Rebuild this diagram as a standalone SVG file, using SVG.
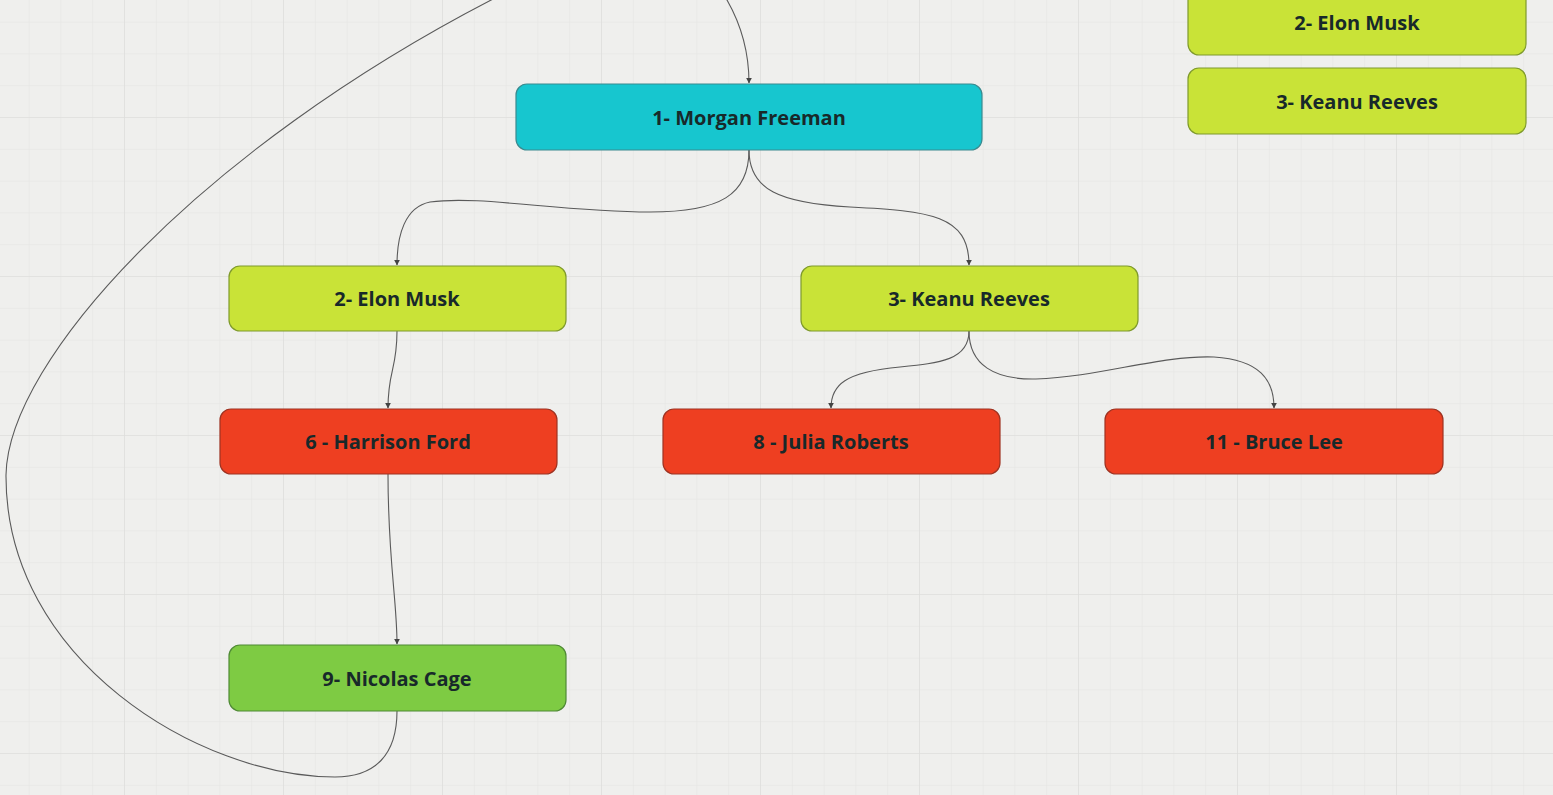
<svg xmlns="http://www.w3.org/2000/svg" width="1553" height="795" viewBox="0 0 1553 795">
<style>
.lbl{font-family:"Open Sans","Noto Sans","Liberation Sans",sans-serif;font-weight:700;font-size:20px;fill:#18292a;text-anchor:middle;dominant-baseline:central}
.teal{fill:#17c6cf;stroke:#3a8a8f;stroke-width:1.2}
.lime{fill:#c9e337;stroke:#7f9a2c;stroke-width:1.2}
.red{fill:#ee3f21;stroke:#9e3322;stroke-width:1.2}
.green{fill:#7ecb43;stroke:#4f8a35;stroke-width:1.2}
.conn{fill:none;stroke:#5a5a5a;stroke-width:1.1}
</style>
<defs>
<pattern id="minor" x="-34" y="-41" width="31.8" height="31.8" patternUnits="userSpaceOnUse">
<path d="M31.8 0V31.8M0 31.8H31.8" fill="none" stroke="#e3e3e1" stroke-width="1"/>
</pattern>
<pattern id="major" x="-34" y="-41" width="159" height="159" patternUnits="userSpaceOnUse">
<path d="M159 0V159M0 159H159" fill="none" stroke="#dcdcda" stroke-width="1.2"/>
</pattern>
<marker id="arr" viewBox="0 0 10 10" refX="9" refY="5" markerWidth="6" markerHeight="6" orient="auto" markerUnits="userSpaceOnUse">
<path d="M0 0L10 5L0 10Z" fill="#444"/>
</marker>
</defs>
<rect width="1553" height="795" fill="#efefed"/>
<rect width="1553" height="795" fill="url(#minor)"/>
<rect width="1553" height="795" fill="url(#major)"/>
<g id="connectors">
<path class="conn" marker-end="url(#arr)" d="M397,711 C397,755 375,777 335,777 C200,777 5,660 6,475 C8,360 200,150 495,-2 C580,-40 705,-35 727,0 C743,28 749,55 749,83"/>
<path class="conn" marker-end="url(#arr)" d="M749,150 C749,195 720,212 650,212 C560,212 480,195 430,202 C405,207 397,235 397,265"/>
<path class="conn" marker-end="url(#arr)" d="M749,150 C749,190 780,203 850,207 C930,211 969,215 969,265"/>
<path class="conn" marker-end="url(#arr)" d="M397,331 C397,370 388,370 388,408"/>
<path class="conn" marker-end="url(#arr)" d="M388,474 C388,560 397,600 397,644"/>
<path class="conn" marker-end="url(#arr)" d="M969,331 C969,360 940,363 900,367 C845,372 831,385 831,408"/>
<path class="conn" marker-end="url(#arr)" d="M969,331 C969,365 995,380 1036,379 C1100,377 1160,355 1214,357 C1260,360 1274,380 1274,408"/>
</g>
<g id="n1"><rect class="teal" x="516" y="84" width="466" height="66" rx="11"/><text class="lbl" x="749" y="117">1- Morgan Freeman</text></g>
<g id="n2"><rect class="lime" x="229" y="266" width="337" height="65" rx="11"/><text class="lbl" x="397" y="298">2- Elon Musk</text></g>
<g id="n3"><rect class="lime" x="801" y="266" width="337" height="65" rx="11"/><text class="lbl" x="969" y="298">3- Keanu Reeves</text></g>
<g id="n6"><rect class="red" x="220" y="409" width="337" height="65" rx="11"/><text class="lbl" x="388" y="441">6 - Harrison Ford</text></g>
<g id="n8"><rect class="red" x="663" y="409" width="337" height="65" rx="11"/><text class="lbl" x="831" y="441">8 - Julia Roberts</text></g>
<g id="n11"><rect class="red" x="1105" y="409" width="338" height="65" rx="11"/><text class="lbl" x="1274" y="441">11 - Bruce Lee</text></g>
<g id="n9"><rect class="green" x="229" y="645" width="337" height="66" rx="11"/><text class="lbl" x="397" y="678">9- Nicolas Cage</text></g>
<g id="legend2"><rect class="lime" x="1188" y="-11" width="338" height="66" rx="11"/><text class="lbl" x="1357" y="22">2- Elon Musk</text></g>
<g id="legend3"><rect class="lime" x="1188" y="68" width="338" height="66" rx="11"/><text class="lbl" x="1357" y="101">3- Keanu Reeves</text></g>
</svg>
